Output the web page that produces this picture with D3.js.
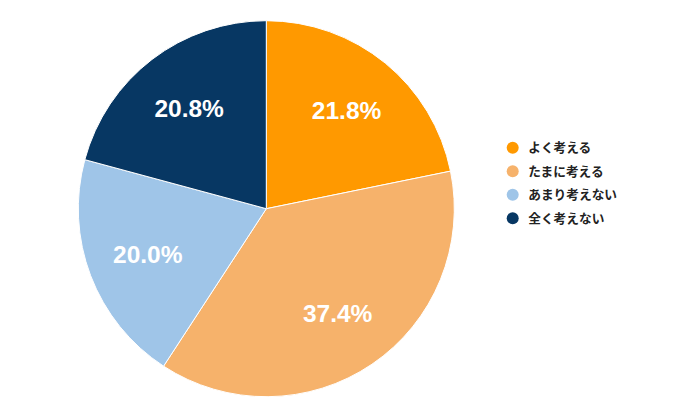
<html>
<script src="https://d3js.org/d3.v7.min.js"></script>
<body style="margin:0">
<div id="div1"></div>
<script>

// Svg dimensions
var svg_width = 676
var svg_height = 419

// data
var categories = ["よく考える", "たまに考える", "あまり考えない", "全く考えない"]
var values = [21.8, 37.4, 20.0, 20.8]
var colors = ["#ff9900", "#f6b26b", "#9fc5e8", "#073763"]

var cx = 266.3
var cy = 208.7
var radius = 188

var svg = d3.select("#div1").append("svg")
  .attr("width", svg_width)
  .attr("height", svg_height)
  .style("background", "white")

var pie = d3.pie().sort(null).value(function(d) { return d })
var arcs = pie(values)

var arc = d3.arc().innerRadius(0).outerRadius(radius)
var label_arc = d3.arc().innerRadius(radius * 0.675).outerRadius(radius * 0.675)

var chart = svg.append("g")
  .attr("transform", "translate(" + cx + "," + cy + ")")

chart.selectAll("path")
  .data(arcs)
  .enter().append("path")
  .attr("d", arc)
  .style("fill", function(d, i) { return colors[i] })
  .style("stroke", "white")
  .style("stroke-width", 1)

chart.selectAll("text")
  .data(arcs)
  .enter().append("text")
  .attr("transform", function(d) { return "translate(" + label_arc.centroid(d) + ")" })
  .attr("text-anchor", "middle")
  .attr("dy", "0.36em")
  .style("font-family", "Liberation Sans, Arial, sans-serif")
  .style("font-weight", "bold")
  .style("font-size", "24.5px")
  .style("fill", "white")
  .text(function(d) { return d.data.toFixed(1) + "%" })

// legend
var legend = svg.append("g")
  .attr("transform", "translate(512.7,147.7)")

var item = legend.selectAll("g")
  .data(categories)
  .enter().append("g")
  .attr("transform", function(d, i) { return "translate(0," + (i * 23.5) + ")" })

item.append("circle")
  .attr("r", 6)
  .style("fill", function(d, i) { return colors[i] })

item.append("text")
  .attr("x", 15.5)
  .attr("dy", "0.36em")
  .style("font-family", "Noto Sans CJK JP, sans-serif")
  .style("font-weight", "bold")
  .style("font-size", "12.7px")
  .style("fill", "#222")
  .text(function(d) { return d })

</script>
</html>
